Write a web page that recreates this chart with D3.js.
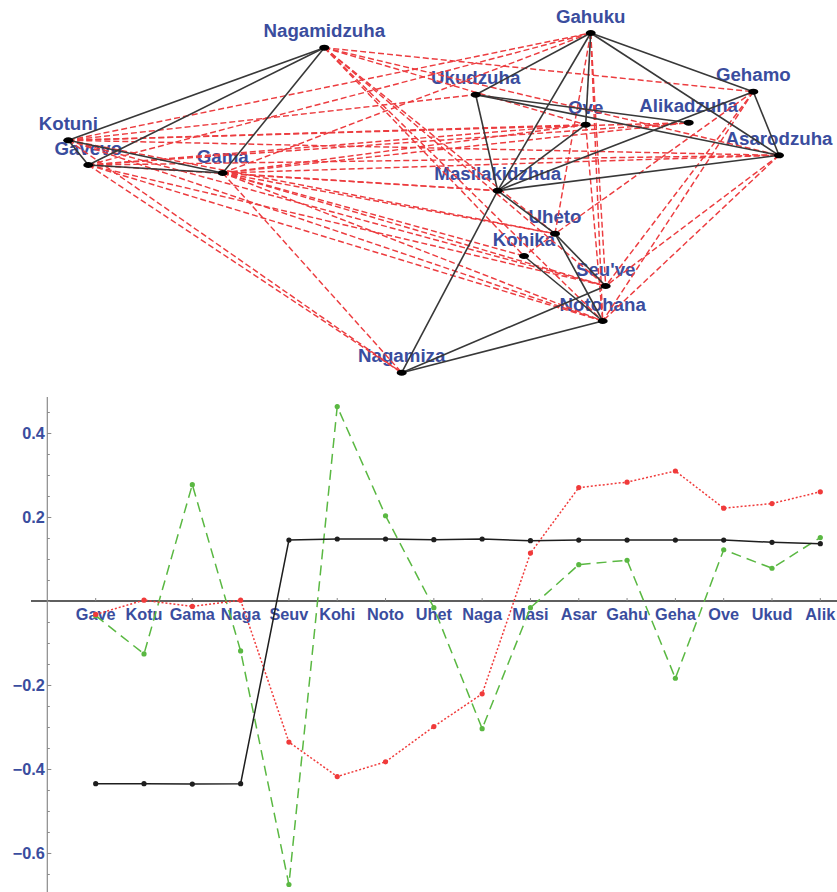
<!DOCTYPE html>
<html>
<head>
<meta charset="utf-8">
<script src="https://cdn.jsdelivr.net/npm/d3@7"></script>
<style>
  body { margin: 0; background: #fff; }
  svg { display: block; }
  text { font-family: "Liberation Sans", Arial, Helvetica, sans-serif; font-weight: bold; }
</style>
</head>
<body>
<svg id="chart" width="837" height="892"></svg>
<script>
// ---- Gahuku-Gama tribes: spring layout coordinates (layout units) ----
const tribes = ["Nagamidzuha", "Gahuku", "Ukudzuha", "Gehamo", "Ove", "Alikadzuha", "Asarodzuha",
  "Kotuni", "Gavevo", "Gama", "Masilakidzhua", "Uheto", "Kohika", "Seu've", "Notohana", "Nagamiza"];
const layoutU = [2.560, 5.224, 4.074, 6.850, 5.174, 6.204, 7.107, 0.000, 0.200, 1.544, 4.294, 4.867, 4.557, 5.374, 5.344, 3.334];
const layoutV = [3.250, 3.397, 2.780, 2.810, 2.480, 2.500, 2.174, 2.324, 2.077, 1.997, 1.820, 1.390, 1.167, 0.867, 0.517, 0.000];

// alliances (positive ties)
const alliances = [
  ["Kotuni", "Gavevo"], ["Kotuni", "Nagamidzuha"], ["Kotuni", "Gama"], ["Gavevo", "Nagamidzuha"],
  ["Gavevo", "Gama"], ["Gama", "Nagamidzuha"],
  ["Gahuku", "Ukudzuha"], ["Gahuku", "Masilakidzhua"], ["Gahuku", "Ove"], ["Gahuku", "Gehamo"],
  ["Gahuku", "Asarodzuha"], ["Ukudzuha", "Masilakidzhua"], ["Ukudzuha", "Alikadzuha"],
  ["Ukudzuha", "Asarodzuha"], ["Masilakidzhua", "Ove"], ["Masilakidzhua", "Gehamo"],
  ["Masilakidzhua", "Asarodzuha"], ["Gehamo", "Asarodzuha"],
  ["Uheto", "Seu've"], ["Uheto", "Notohana"], ["Kohika", "Notohana"], ["Seu've", "Nagamiza"],
  ["Notohana", "Nagamiza"], ["Masilakidzhua", "Uheto"], ["Masilakidzhua", "Nagamiza"]
];

// enmities (negative ties)
const enmities = [
  ["Kotuni", "Gahuku"], ["Kotuni", "Ukudzuha"], ["Kotuni", "Ove"], ["Kotuni", "Alikadzuha"],
  ["Kotuni", "Asarodzuha"], ["Kotuni", "Uheto"], ["Kotuni", "Seu've"], ["Kotuni", "Notohana"],
  ["Kotuni", "Nagamiza"],
  ["Gavevo", "Gahuku"], ["Gavevo", "Ove"], ["Gavevo", "Alikadzuha"], ["Gavevo", "Asarodzuha"],
  ["Gavevo", "Masilakidzhua"], ["Gavevo", "Seu've"], ["Gavevo", "Notohana"], ["Gavevo", "Nagamiza"],
  ["Gama", "Gahuku"], ["Gama", "Ove"], ["Gama", "Alikadzuha"], ["Gama", "Asarodzuha"],
  ["Gama", "Masilakidzhua"], ["Gama", "Uheto"], ["Gama", "Kohika"], ["Gama", "Seu've"],
  ["Gama", "Notohana"], ["Gama", "Nagamiza"],
  ["Nagamidzuha", "Gehamo"], ["Nagamidzuha", "Ove"], ["Nagamidzuha", "Asarodzuha"],
  ["Nagamidzuha", "Uheto"], ["Nagamidzuha", "Kohika"], ["Nagamidzuha", "Seu've"],
  ["Nagamidzuha", "Notohana"],
  ["Gahuku", "Uheto"], ["Gahuku", "Seu've"], ["Gahuku", "Notohana"],
  ["Gehamo", "Kohika"], ["Gehamo", "Seu've"], ["Gehamo", "Notohana"],
  ["Asarodzuha", "Seu've"], ["Asarodzuha", "Notohana"], ["Ove", "Notohana"]
];

// ---- eigenvector components per tribe ----
const categories = ["Gave", "Kotu", "Gama", "Naga", "Seuv", "Kohi", "Noto", "Uhet", "Naga", "Masi",
  "Asar", "Gahu", "Geha", "Ove", "Ukud", "Alik"];
const vecBlack = [-0.435, -0.435, -0.436, -0.435, 0.145, 0.1476, 0.1476, 0.146, 0.1476, 0.1437,
  0.145, 0.145, 0.145, 0.145, 0.1397, 0.1365];
const vecRed = [-0.032, 0.002, -0.013, 0.002, -0.336, -0.418, -0.383, -0.299, -0.221, 0.114,
  0.270, 0.283, 0.3095, 0.221, 0.232, 0.260];
const vecGreen = [-0.035, -0.126, 0.277, -0.119, -0.675, 0.463, 0.203, -0.016, -0.304, -0.016,
  0.0865, 0.097, -0.184, 0.122, 0.078, 0.151];
const yTickLabels = [-0.6, -0.4, -0.2, 0.2, 0.4];

const BLUE = "#3a4d9e";
const svg = d3.select("#chart");

// ================= network =================
const nx = d3.scaleLinear().domain([0, 7.107]).range([68.3, 779]);
const ny = d3.scaleLinear().domain([0, 3.397]).range([372.7, 33]);
const pos = new Map(tribes.map((t, i) => [t, [nx(layoutU[i]), ny(layoutV[i])]]));

const net = svg.append("g");
net.append("g").selectAll("text").data(tribes).join("text")
  .attr("x", d => pos.get(d)[0])
  .attr("y", d => pos.get(d)[1] - 10.5)
  .attr("text-anchor", "middle")
  .attr("font-size", 18.7)
  .attr("fill", BLUE)
  .text(d => d);

net.append("g").selectAll("line").data(enmities).join("line")
  .attr("x1", d => pos.get(d[0])[0]).attr("y1", d => pos.get(d[0])[1])
  .attr("x2", d => pos.get(d[1])[0]).attr("y2", d => pos.get(d[1])[1])
  .attr("stroke", "#ec3c3f").attr("stroke-width", 1.45)
  .attr("stroke-dasharray", "6,3");

net.append("g").selectAll("line").data(alliances).join("line")
  .attr("x1", d => pos.get(d[0])[0]).attr("y1", d => pos.get(d[0])[1])
  .attr("x2", d => pos.get(d[1])[0]).attr("y2", d => pos.get(d[1])[1])
  .attr("stroke", "#383838").attr("stroke-width", 1.6);

net.append("g").selectAll("ellipse").data(tribes).join("ellipse")
  .attr("cx", d => pos.get(d)[0]).attr("cy", d => pos.get(d)[1])
  .attr("rx", 5).attr("ry", 3).attr("fill", "#000");

// ================= eigenvector plot =================
const x = d3.scalePoint().domain(d3.range(categories.length)).range([95.7, 820.3]);
const y = d3.scaleLinear().domain([-0.6929, 0.4857]).range([892, 397]);

const plot = svg.append("g");

// horizontal axis through zero
plot.append("line")
  .attr("x1", 31).attr("x2", 837)
  .attr("y1", y(0)).attr("y2", y(0))
  .attr("stroke", "#2a2a2a").attr("stroke-width", 1.3);
plot.append("g").selectAll("line").data(d3.range(categories.length)).join("line")
  .attr("x1", d => x(d)).attr("x2", d => x(d))
  .attr("y1", y(0)).attr("y2", y(0) - 3)
  .attr("stroke", "#888").attr("stroke-width", 1);
plot.append("g").selectAll("text").data(categories).join("text")
  .attr("x", (d, i) => x(i))
  .attr("y", y(0) + 19)
  .attr("text-anchor", "middle")
  .attr("font-size", 16.3)
  .attr("fill", BLUE)
  .text(d => d);

// vertical axis with minor and major ticks
const yAxisX = 47.3;
const minor = d3.range(-0.65, 0.4501, 0.05).map(v => +v.toFixed(2));
const gy = plot.append("g").attr("transform", `translate(${yAxisX},0)`);
gy.call(d3.axisLeft(y).tickValues(minor).tickSize(-2.5).tickFormat(""));
gy.call(g => g.select(".domain").remove());
const gyMaj = plot.append("g").attr("transform", `translate(${yAxisX},0)`);
gyMaj.call(d3.axisLeft(y).tickValues(yTickLabels).tickSize(-4).tickPadding(2.5)
  .tickFormat(d3.format(".1f")));
gyMaj.select(".domain").remove();
[gy, gyMaj].forEach(g => g.selectAll(".tick line").attr("stroke", "#888"));
gyMaj.selectAll(".tick text")
  .attr("font-size", 16.3).attr("font-family", null).attr("fill", BLUE)
  .attr("font-weight", "bold");
plot.append("line")
  .attr("x1", yAxisX).attr("x2", yAxisX)
  .attr("y1", 397).attr("y2", 892)
  .attr("stroke", "#8a8a8a").attr("stroke-width", 1.2);

// series
const series = [
  { values: vecGreen, color: "#5ab842", dash: "10,6" },
  { values: vecRed, color: "#f03a3a", dash: "2,2" },
  { values: vecBlack, color: "#1e1e1e", dash: null }
];
const line = d3.line().x((d, i) => x(i)).y(d => y(d));
series.forEach(s => {
  plot.append("path")
    .attr("d", line(s.values))
    .attr("fill", "none")
    .attr("stroke", s.color)
    .attr("stroke-width", 1.5)
    .attr("stroke-dasharray", s.dash);
  plot.append("g").selectAll("circle").data(s.values).join("circle")
    .attr("cx", (d, i) => x(i)).attr("cy", d => y(d))
    .attr("r", 2.6).attr("fill", s.color);
});
</script>
</body>
</html>
